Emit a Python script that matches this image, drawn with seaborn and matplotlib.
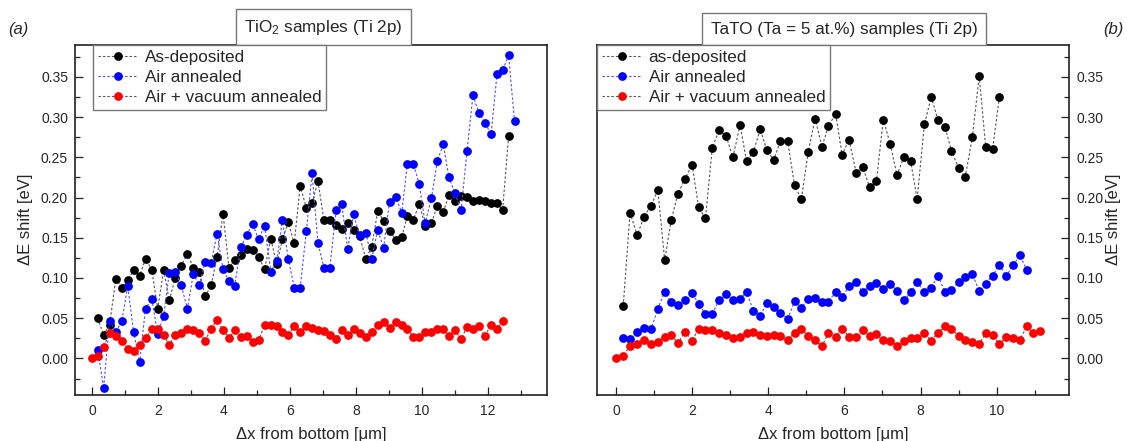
import matplotlib
matplotlib.use("Agg")
import matplotlib.pyplot as plt
from matplotlib.ticker import MultipleLocator, FormatStrFormatter
import seaborn as sns

sns.set_style("ticks")
plt.rcParams["font.family"] = ["Liberation Sans", "DejaVu Sans"]
plt.rcParams["mathtext.fontset"] = "custom"
plt.rcParams["mathtext.rm"] = "Liberation Sans"
plt.rcParams["mathtext.it"] = "Liberation Sans:italic"

# ---- (a) TiO2 samples: probe positions along the line scan [um]
pos_a = [0.00, 0.17, 0.35, 0.53, 0.72, 0.90, 1.08, 1.26, 1.44, 1.62, 1.81, 1.99,
         2.17, 2.34, 2.52, 2.70, 2.89, 3.07, 3.25, 3.43, 3.61, 3.79, 3.97, 4.15,
         4.32, 4.51, 4.69, 4.87, 5.05, 5.23, 5.42, 5.60, 5.77, 5.95, 6.13, 6.31,
         6.50, 6.67, 6.85, 7.03, 7.21, 7.40, 7.57, 7.75, 7.93, 8.11, 8.30, 8.48,
         8.66, 8.84, 9.02, 9.21, 9.39, 9.56, 9.74, 9.92, 10.10, 10.29, 10.47, 10.65,
         10.82, 11.00, 11.19, 11.37, 11.55, 11.73, 11.91, 12.10, 12.28, 12.45, 12.63, 12.81]

tio2_asdep = [0.050, 0.029, 0.042, 0.099, 0.088, 0.097, 0.110, 0.102, 0.124, 0.110,
              0.062, 0.110, 0.072, 0.100, 0.115, 0.130, 0.113, 0.108, 0.077, 0.091,
              0.126, 0.180, 0.113, 0.122, 0.128, 0.136, 0.135, 0.126, 0.111, 0.149,
              0.117, 0.148, 0.169, 0.143, 0.214, 0.187, 0.193, 0.220, 0.172, 0.172,
              0.166, 0.161, 0.168, 0.160, 0.152, 0.124, 0.139, 0.183, 0.171, 0.159,
              0.147, 0.151, 0.177, 0.172, 0.192, 0.165, 0.168, 0.190, 0.182, 0.203,
              0.196, 0.202, 0.201, 0.196, 0.197, 0.196, 0.193, 0.193, 0.185, 0.276]

tio2_air = [0.011, -0.037, 0.047, 0.033, 0.046, 0.090, 0.033, -0.005, 0.062, 0.074,
            0.030, 0.053, 0.106, 0.108, 0.091, 0.062, 0.105, 0.091, 0.120, 0.119,
            0.155, 0.111, 0.096, 0.090, 0.138, 0.154, 0.167, 0.148, 0.165, 0.108,
            0.121, 0.172, 0.124, 0.088, 0.088, 0.159, 0.230, 0.143, 0.113, 0.113,
            0.184, 0.192, 0.136, 0.179, 0.153, 0.156, 0.124, 0.160, 0.137, 0.195,
            0.201, 0.181, 0.242, 0.242, 0.217, 0.168, 0.199, 0.246, 0.266, 0.225,
            0.206, 0.184, 0.258, 0.327, 0.305, 0.293, 0.279, 0.354, 0.358, 0.377, 0.295]

tio2_vac = [0.000, 0.003, 0.014, 0.032, 0.028, 0.022, 0.012, 0.009, 0.017, 0.025,
            0.036, 0.036, 0.029, 0.017, 0.029, 0.031, 0.036, 0.035, 0.032, 0.022,
            0.037, 0.048, 0.035, 0.025, 0.035, 0.026, 0.028, 0.021, 0.023, 0.041,
            0.042, 0.040, 0.033, 0.029, 0.040, 0.033, 0.040, 0.038, 0.035, 0.034,
            0.029, 0.024, 0.035, 0.029, 0.037, 0.031, 0.027, 0.033, 0.042, 0.045,
            0.038, 0.045, 0.042, 0.037, 0.027, 0.027, 0.033, 0.033, 0.036, 0.036,
            0.028, 0.035, 0.024, 0.039, 0.037, 0.040, 0.028, 0.042, 0.037, 0.047]

# ---- (b) TaTO samples
pos_b = [0.00, 0.19, 0.37, 0.56, 0.73, 0.92, 1.10, 1.28, 1.45, 1.63, 1.81, 2.00,
         2.17, 2.35, 2.53, 2.71, 2.89, 3.07, 3.26, 3.43, 3.61, 3.79, 3.96, 4.14,
         4.32, 4.51, 4.69, 4.87, 5.05, 5.23, 5.41, 5.58, 5.77, 5.94, 6.12, 6.31,
         6.48, 6.66, 6.84, 7.02, 7.20, 7.38, 7.56, 7.74, 7.91, 8.10, 8.28, 8.46,
         8.64, 8.81, 9.00, 9.17, 9.36, 9.54, 9.71, 9.89, 10.07, 10.25, 10.43, 10.61,
         10.79, 10.96, 11.14]

tato_asdep = [0.065, 0.181, 0.153, 0.176, 0.190, 0.209, 0.122, 0.172, 0.205, 0.223,
              0.241, 0.188, 0.174, 0.262, 0.284, 0.277, 0.250, 0.290, 0.245, 0.257,
              0.285, 0.259, 0.247, 0.270, 0.270, 0.215, 0.198, 0.257, 0.298, 0.263,
              0.289, 0.304, 0.253, 0.272, 0.231, 0.238, 0.213, 0.220, 0.297, 0.267,
              0.228, 0.250, 0.245, 0.198, 0.291, 0.325, 0.296, 0.288, 0.258, 0.237,
              0.225, 0.275, 0.351, 0.263, 0.260, 0.325]

tato_air = [0.025, 0.024, 0.033, 0.038, 0.036, 0.062, 0.083, 0.070, 0.067, 0.072,
            0.081, 0.068, 0.055, 0.055, 0.073, 0.080, 0.073, 0.074, 0.083, 0.059,
            0.053, 0.069, 0.064, 0.057, 0.049, 0.071, 0.063, 0.074, 0.075, 0.070,
            0.070, 0.083, 0.076, 0.090, 0.095, 0.082, 0.090, 0.094, 0.086, 0.093,
            0.084, 0.072, 0.082, 0.095, 0.082, 0.088, 0.103, 0.082, 0.085, 0.095,
            0.101, 0.105, 0.084, 0.093, 0.103, 0.116, 0.102, 0.116, 0.128, 0.110]

tato_vac = [0.000, 0.003, 0.016, 0.018, 0.023, 0.018, 0.020, 0.027, 0.029, 0.019,
            0.033, 0.022, 0.037, 0.035, 0.035, 0.031, 0.029, 0.025, 0.027, 0.031,
            0.033, 0.029, 0.028, 0.029, 0.028, 0.023, 0.032, 0.037, 0.028, 0.023,
            0.015, 0.032, 0.027, 0.037, 0.027, 0.027, 0.035, 0.028, 0.030, 0.023,
            0.022, 0.016, 0.022, 0.025, 0.025, 0.031, 0.022, 0.032, 0.040, 0.036,
            0.028, 0.023, 0.020, 0.018, 0.031, 0.029, 0.018, 0.026, 0.025, 0.023,
            0.040, 0.031, 0.034]

labels_a = ["As-deposited", "Air annealed", "Air + vacuum annealed"]
labels_b = ["as-deposited", "Air annealed", "Air + vacuum annealed"]
titles = ["TiO$_2$ samples (Ti 2p)", "TaTO (Ta = 5 at.%) samples (Ti 2p)"]

MARK = ["#000000", "#0000ff", "#ff0000"]
LINE = ["#555555", "#5050ff", "#555555"]


def draw(ax, x, y, i, label):
    sns.lineplot(x=x, y=y, ax=ax, sort=False, estimator=None, color=LINE[i],
                 linestyle=(0, (2.2, 1.8)), linewidth=0.8, marker="o",
                 markersize=6.3, markerfacecolor=MARK[i], markeredgecolor=MARK[i],
                 markeredgewidth=0, label=label)


fig = plt.figure(figsize=(11.27, 4.41), dpi=100)
ax_a = fig.add_axes([0.0665, 0.1052, 0.4193, 0.7934])
ax_b = fig.add_axes([0.5300, 0.1052, 0.4186, 0.7934])

draw(ax_a, pos_a[1:71], tio2_asdep, 0, labels_a[0])
draw(ax_a, pos_a[1:72], tio2_air, 1, labels_a[1])
draw(ax_a, pos_a[0:70], tio2_vac, 2, labels_a[2])

draw(ax_b, pos_b[1:57], tato_asdep, 0, labels_b[0])
draw(ax_b, pos_b[1:61], tato_air, 1, labels_b[1])
draw(ax_b, pos_b[0:63], tato_vac, 2, labels_b[2])

ax_a.set_xlim(-0.52, 13.81)
ax_b.set_xlim(-0.49, 11.9)

for ax in (ax_a, ax_b):
    ax.set_ylim(-0.045, 0.39)
    ax.xaxis.set_major_locator(MultipleLocator(2))
    ax.xaxis.set_minor_locator(MultipleLocator(1))
    ax.yaxis.set_major_locator(MultipleLocator(0.05))
    ax.yaxis.set_minor_locator(MultipleLocator(0.025))
    ax.yaxis.set_major_formatter(FormatStrFormatter("%.2f"))
    ax.tick_params(which="both", direction="in", labelsize=10, width=0.9,
                   color="#222222", top=False)
    ax.tick_params(which="major", length=6)
    ax.tick_params(which="minor", length=3.5)
    ax.tick_params(axis="x", pad=6.5)
    ax.tick_params(axis="y", pad=5)
    for s in ax.spines.values():
        s.set_linewidth(1.2)
        s.set_color("#222222")
    ax.set_xlabel("\u0394x from bottom [\u03bcm]", fontsize=12, labelpad=7)

ax_a.tick_params(which="both", left=True, right=False)
ax_b.yaxis.tick_right()
ax_b.tick_params(which="both", left=False, right=True, labelleft=False, labelright=True)
ax_b.yaxis.set_label_position("right")

ax_a.set_ylabel("\u0394E shift [eV]", fontsize=12, labelpad=6)
ax_b.set_ylabel("\u0394E shift [eV]", fontsize=12, labelpad=2)

for ax, anchor in ((ax_a, (0.039, 1.0)), (ax_b, (0.0, 1.0))):
    leg = ax.legend(loc="upper left", bbox_to_anchor=anchor, fontsize=12.3,
                    frameon=True, fancybox=False, edgecolor="#777777", framealpha=1,
                    borderaxespad=0, handlelength=2.3, handletextpad=0.4,
                    labelspacing=0.3, borderpad=0.3)
    leg.get_frame().set_linewidth(1.0)

for ax, title, xc in ((ax_a, titles[0], 0.526), (ax_b, titles[1], 0.523)):
    ax.annotate(title, xy=(xc, 1.0), xycoords="axes fraction", xytext=(0, 5.8),
                textcoords="offset points", ha="center", va="bottom", fontsize=12.3,
                bbox=dict(boxstyle="square,pad=0.48", fc="white", ec="#777777", lw=1.0))

fig.text(0.016, 0.932, "(a)", style="italic", fontsize=12, ha="center", va="center")
fig.text(0.9876, 0.932, "(b)", style="italic", fontsize=12, ha="center", va="center")

fig.savefig("out.png", dpi=100, facecolor="white")
